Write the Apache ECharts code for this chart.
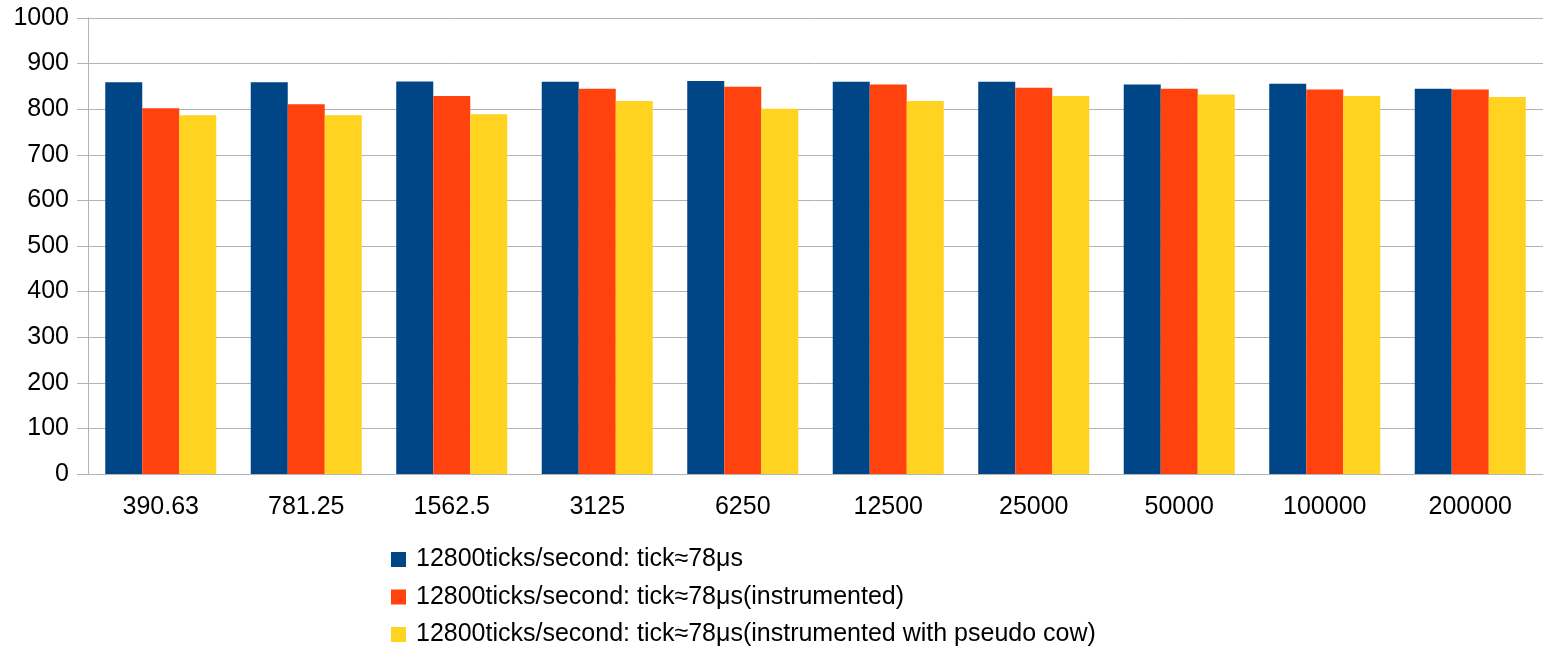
<!DOCTYPE html>
<html><head><meta charset="utf-8">
<script src="https://cdn.jsdelivr.net/npm/echarts@6/dist/echarts.min.js"></script>
<style>html,body{margin:0;padding:0;background:#fff}#c{width:1546px;height:648px}</style>
</head><body><div id="c"></div>
<script>
const categories = ["390.63","781.25","1562.5","3125","6250","12500","25000","50000","100000","200000"];
const seriesNames = ["12800ticks/second: tick≈78μs","12800ticks/second: tick≈78μs(instrumented)","12800ticks/second: tick≈78μs(instrumented with pseudo cow)"];
const baseline = [859, 859, 861, 860, 862, 860, 860, 854, 856, 845];
const instrumented = [802, 811, 829, 845, 849, 854, 847, 845, 843, 843];
const pseudoCow = [787, 787, 789, 818, 801, 818, 829, 832, 829, 827];
const yTicks = [0, 100, 1000];
const colors = ["#004586", "#ff420e", "#ffd320"];
const font = "'Liberation Sans', Arial, sans-serif";
const chart = echarts.init(document.getElementById('c'));
const data = [baseline, instrumented, pseudoCow];
chart.setOption({
  animation: false,
  color: colors,
  grid: {left: 88, right: 3, top: 18, bottom: 174, containLabel: false},
  legend: {
    orient: 'vertical', left: 386, top: 542, height: 110,
    itemWidth: 15, itemHeight: 15, itemGap: 12.5,
    icon: 'rect',
    textStyle: {fontFamily: font, fontSize: 25, color: '#000', lineHeight: 25, padding: [0,0,0,5]},
    data: seriesNames
  },
  xAxis: {
    type: 'category', data: categories,
    axisLine: {lineStyle: {color: '#b3b3b3'}},
    axisTick: {length: 13, lineStyle: {color: '#b3b3b3'}},
    axisLabel: {fontFamily: font, fontSize: 25, color: '#000', margin: 21}
  },
  yAxis: {
    type: 'value', min: yTicks[0], max: yTicks[2], interval: yTicks[1],
    axisLine: {show: true, lineStyle: {color: '#b3b3b3'}},
    axisTick: {show: true, length: 11, lineStyle: {color: '#b3b3b3'}},
    splitLine: {lineStyle: {color: '#b3b3b3'}},
    axisLabel: {fontFamily: font, fontSize: 25, color: '#000', margin: 19, formatter: v => String(v)}
  },
  series: seriesNames.map((n, i) => ({
    name: n, type: 'bar', data: data[i],
    barGap: '0%', barCategoryGap: '23.7%'
  }))
});
</script></body></html>
